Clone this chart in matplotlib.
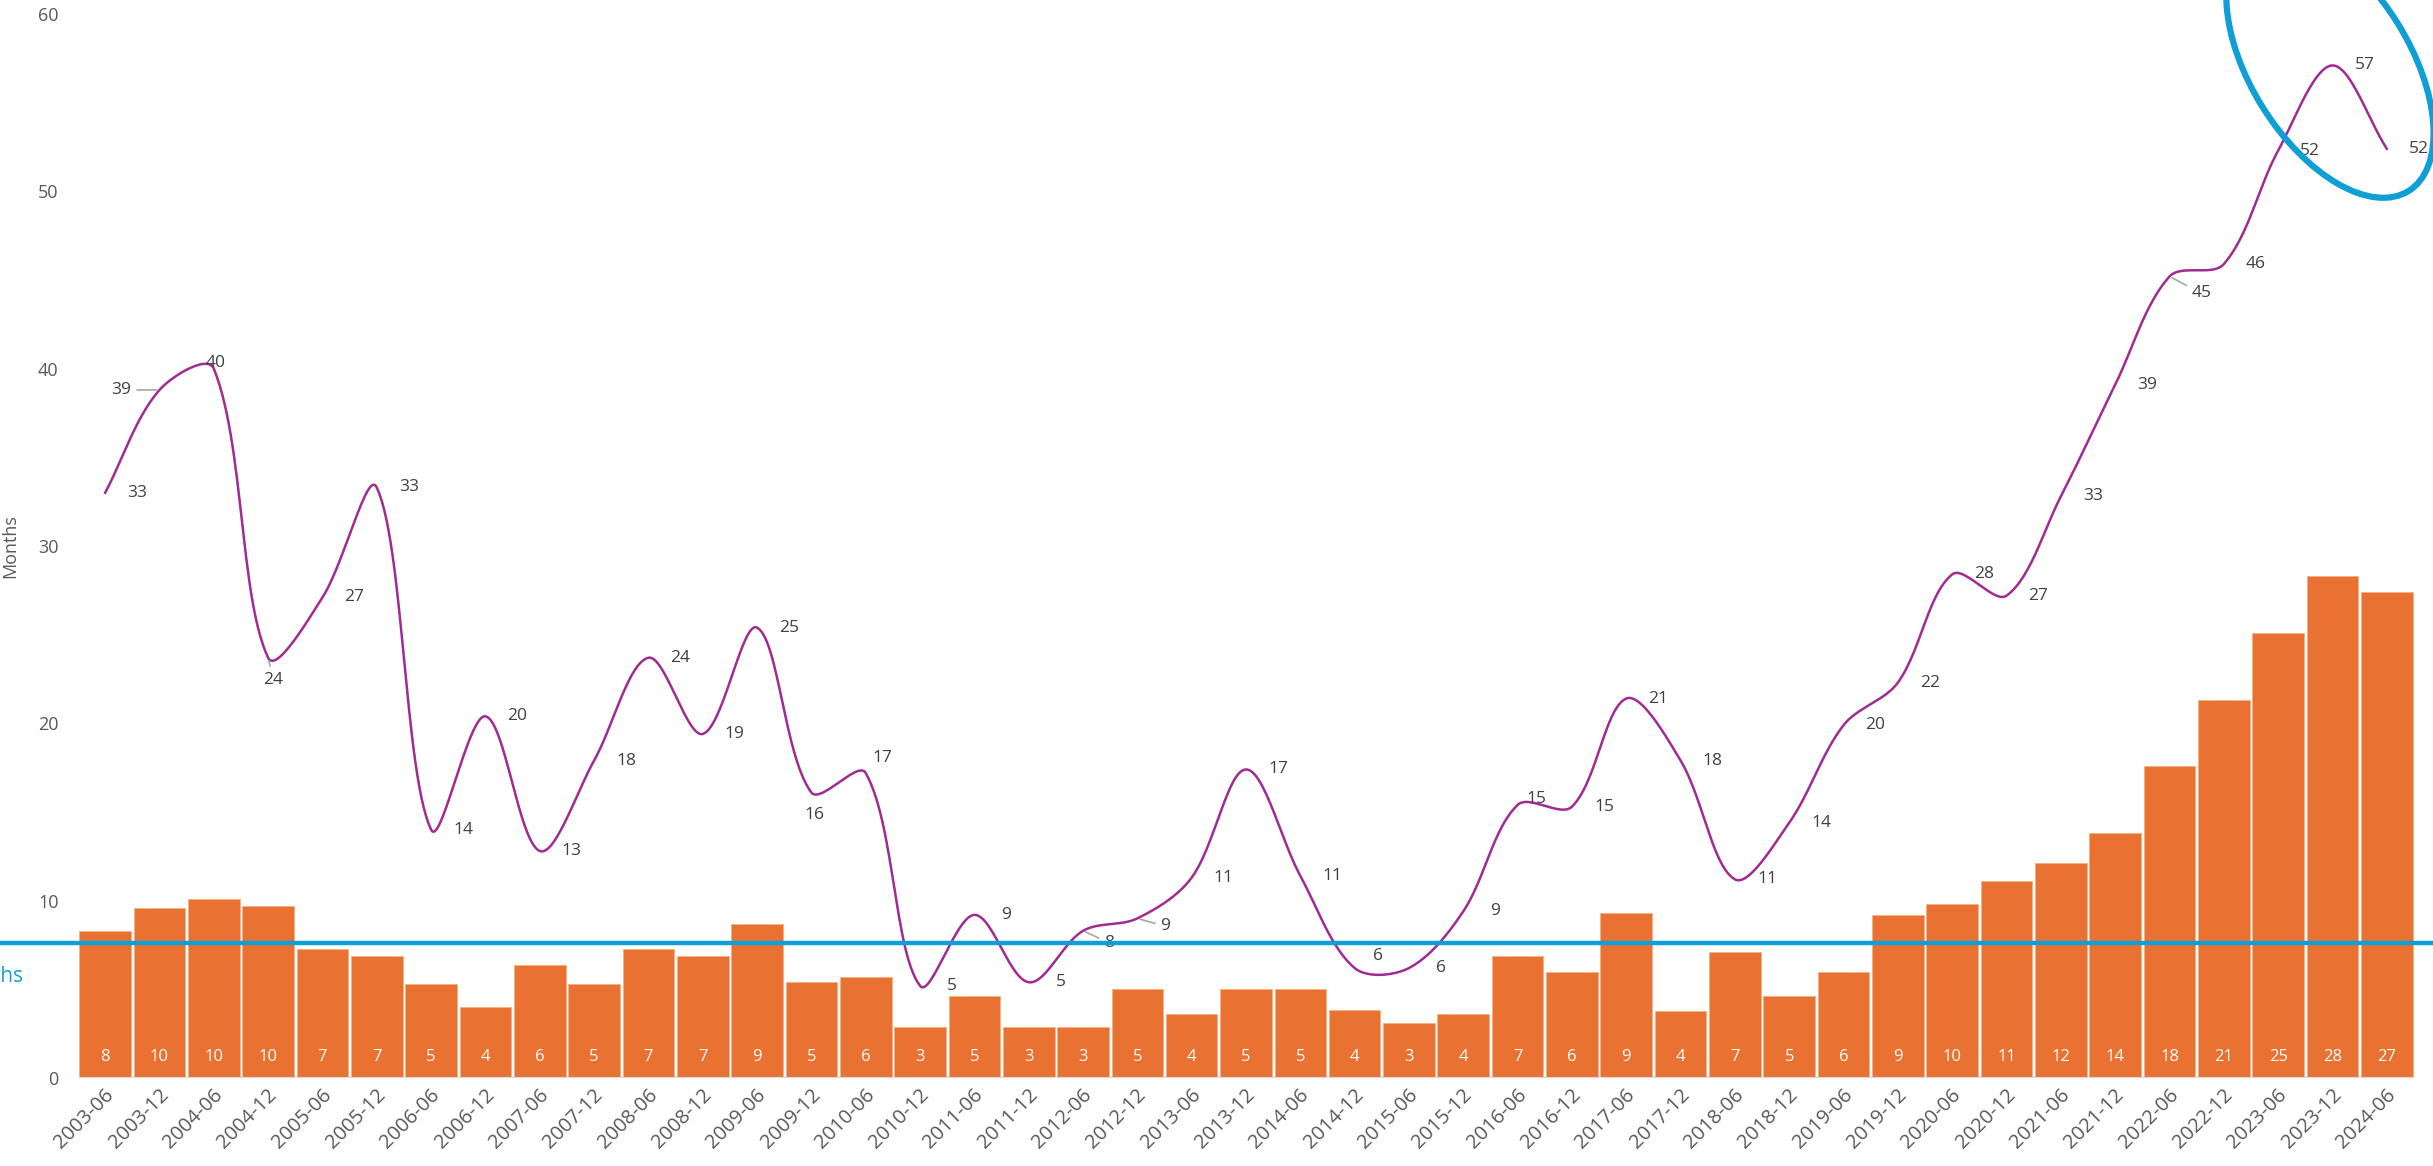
import matplotlib.pyplot as plt
import numpy as np
from matplotlib.patches import Ellipse
from matplotlib.transforms import IdentityTransform, ScaledTranslation, blended_transform_factory

plt.rcParams['font.family'] = ['Open Sans', 'DejaVu Sans']

periods = ['2003-06', '2003-12', '2004-06', '2004-12', '2005-06', '2005-12',
           '2006-06', '2006-12', '2007-06', '2007-12', '2008-06', '2008-12',
           '2009-06', '2009-12', '2010-06', '2010-12', '2011-06', '2011-12',
           '2012-06', '2012-12', '2013-06', '2013-12', '2014-06', '2014-12',
           '2015-06', '2015-12', '2016-06', '2016-12', '2017-06', '2017-12',
           '2018-06', '2018-12', '2019-06', '2019-12', '2020-06', '2020-12',
           '2021-06', '2021-12', '2022-06', '2022-12', '2023-06', '2023-12',
           '2024-06']

# orange bars
bar_values = [8.3, 9.6, 10.1, 9.7, 7.3, 6.9, 5.3, 4.0, 6.4, 5.3, 7.3, 6.9,
              8.7, 5.4, 5.7, 2.9, 4.6, 2.9, 2.9, 5.0, 3.6, 5.0, 5.0, 3.85,
              3.1, 3.6, 6.9, 6.0, 9.3, 3.8, 7.1, 4.6, 6.0, 9.2, 9.8, 11.1,
              12.1, 13.8, 17.6, 21.3, 25.1, 28.3, 27.4]

# purple smoothed line
line_values = [33.0, 38.8, 40.0, 23.7, 27.1, 33.3, 14.0, 20.4, 12.8, 17.9,
               23.7, 19.4, 25.4, 16.1, 17.2, 5.2, 9.2, 5.4, 8.3, 9.0, 11.3,
               17.4, 11.4, 6.2, 6.2, 9.4, 15.4, 15.3, 21.4, 17.9, 11.2, 14.4,
               19.9, 22.3, 28.4, 27.2, 32.8, 39.1, 45.2, 45.9, 52.3, 57.1, 52.4]

reference_level = 7.6

ORANGE = '#E97132'
BLUE = '#0F9ED5'
PURPLE = '#A02B93'
GREY = '#595959'

# label offsets in pixels, default is right of the point
label_offsets = {1: (-38, 0), 2: (2, 6), 3: (5, -22), 13: (3, -23), 14: (17, 15),
                 18: (26, -12), 19: (28, -8), 23: (23, 12), 26: (19, 6), 38: (32, -17)}
leader_lines = {1, 3, 18, 19, 38}


def smooth(xs, ys, sx, sy, n=30):
    # bezier smoothing like excel, tangents split by chord length on screen
    p = np.column_stack([np.asarray(xs, float) * sx, np.asarray(ys, float) * sy])
    m = len(p)
    d = np.hypot(*np.diff(p, axis=0).T)
    out = []
    t = np.linspace(0, 1, n)[:, None]
    for i in range(m - 1):
        p0, p3 = p[i], p[i + 1]
        if i == 0:
            c1 = p0 + (p3 - p0) / 3
        else:
            tan = p[i + 1] - p[i - 1]
            c1 = p0 + tan * d[i] / (d[i - 1] + d[i]) / 3
        if i == m - 2:
            c2 = p3 - (p3 - p0) / 3
        else:
            tan = p[i + 2] - p[i]
            c2 = p3 - tan * d[i] / (d[i] + d[i + 1]) / 3
        pts = (1 - t) ** 3 * p0 + 3 * (1 - t) ** 2 * t * c1 + 3 * (1 - t) * t ** 2 * c2 + t ** 3 * p3
        out.append(pts)
    out = np.vstack(out)
    return out[:, 0] / sx, out[:, 1] / sy


W, H = 2433, 1166
fig = plt.figure(figsize=(W / 100, H / 100), dpi=100)
ax = fig.add_axes([78 / W, 88 / H, (2414 - 78) / W, (1152 - 88) / H])

x = np.arange(len(periods))
ax.bar(x, bar_values, width=0.95, color=ORANGE, edgecolor='#F4B183', linewidth=0.6, zorder=2)
for i, v in enumerate(bar_values):
    ax.text(i, 1.2, f'{v:.0f}', ha='center', va='center', color='white',
            fontsize=12, zorder=3)

ax.axhline(0, color='#D9D9D9', lw=1.5, zorder=3)

# pixel scale of one unit on each axis
px_x = (2414 - 78) / len(periods)
px_y = (1152 - 88) / 60
cx, cy = smooth(x, line_values, px_x, px_y)
ax.plot(cx, cy, color=PURPLE, lw=1.8, zorder=4)

for i, v in enumerate(line_values):
    dx, dy = label_offsets.get(i, (32, 0))
    arrow = None
    if i in leader_lines:
        arrow = dict(arrowstyle='-', color='#A6A6A6', lw=1.2, shrinkA=2, shrinkB=2)
    ax.annotate(f'{v:.0f}', (i, v), xytext=(dx, dy), textcoords='offset pixels',
                ha='center', va='center', fontsize=12.5, color='#404040',
                arrowprops=arrow, zorder=5)

# blue reference line across the whole figure
trans = blended_transform_factory(fig.transFigure, ax.transData)
ax.plot([0, 1], [reference_level, reference_level], transform=trans, color=BLUE,
        lw=3.2, clip_on=False, zorder=6)
fig.text(23 / W, 1 - 977 / H, f'{reference_level} months', color=BLUE, fontsize=15,
         ha='right', va='center')

# highlight ellipse around the latest values
fig.add_artist(Ellipse((2330, H - 65), width=297, height=159, angle=-58,
                       transform=IdentityTransform(), fill=False, ec=BLUE, lw=4.5))

ax.set_xlim(-0.5, len(periods) - 0.5)
ax.set_ylim(0, 60)
ax.set_yticks(range(0, 61, 10))
ax.set_xticks(x, periods, rotation=45, ha='right', rotation_mode='anchor', va='center')
ax.tick_params(axis='y', length=0, pad=14, labelsize=13, colors=GREY)
ax.tick_params(axis='x', length=0, pad=10, labelsize=14.5, colors=GREY)
shift = ScaledTranslation(6 / 100, 0, fig.dpi_scale_trans)
for lab in ax.get_xticklabels():
    lab.set_transform(lab.get_transform() + shift)
ax.set_ylabel('Months', color=GREY, fontsize=13)
ax.yaxis.set_label_coords((19 - 78) / (2414 - 78), 0.5)
for s in ax.spines.values():
    s.set_visible(False)

fig.savefig('out.png', dpi=100)
